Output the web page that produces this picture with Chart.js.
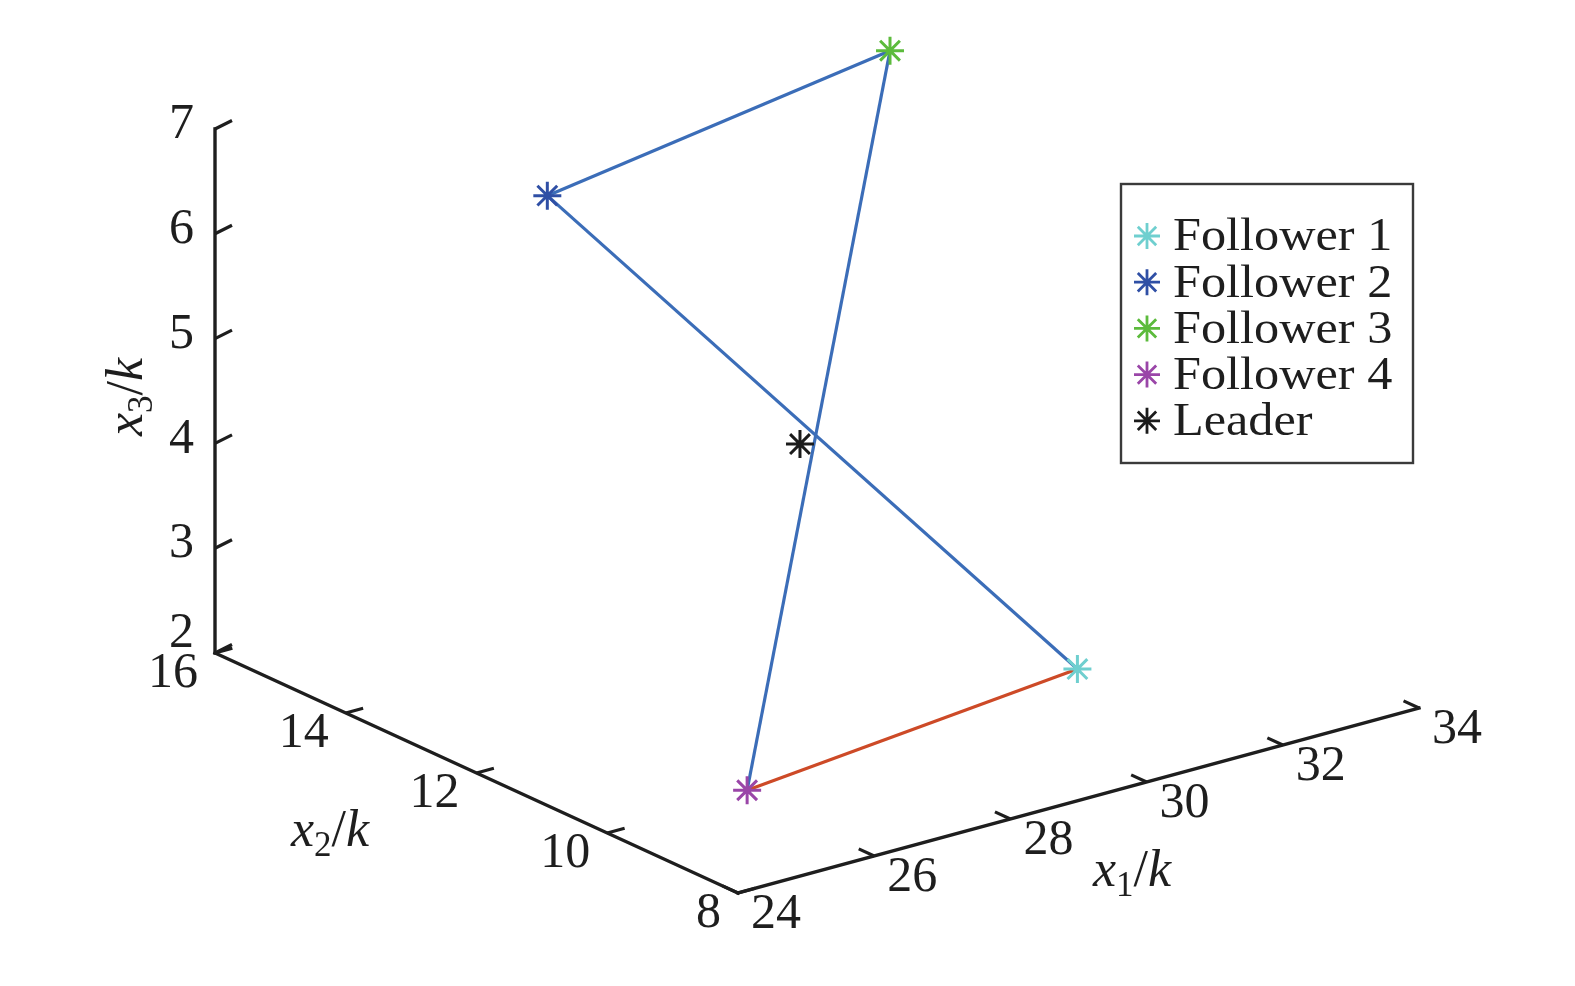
<!DOCTYPE html>
<html><head><meta charset="utf-8">
<script src="https://cdn.jsdelivr.net/npm/chart.js@4"></script>
<style>html,body{margin:0;padding:0;background:#fff;overflow:hidden}</style>
</head><body>
<canvas id="c" width="1575" height="986"></canvas>
<script>
// ---- data (3-D positions) ----
const seriesNames  = ['Follower 1', 'Follower 2', 'Follower 3', 'Follower 4', 'Leader'];
const x1Values     = [31.0, 27.2, 31.8, 26.15, 28.75];
const x2Values     = [10.1, 14.25, 13.8, 10.1, 12.0];
const x3Values     = [2.3, 6.3, 7.0, 2.0, 4.3];
const seriesColors = ['#6fcfcf', '#2f4fa5', '#5cbb3c', '#9a46a8', '#1b1b1b'];
// formation edges (indices into the series above)
const edgeFrom   = [1, 2, 1, 0];
const edgeTo     = [2, 3, 0, 3];
const edgeColors = ['#3b6db8', '#3b6db8', '#3b6db8', '#cd4a27'];
// axis ticks
const x1Ticks = [24, 26, 28, 30, 32, 34];
const x2Ticks = [8, 10, 12, 14, 16];
const x3Ticks = [2, 3, 4, 5, 6, 7];

// ---- view (camera) : maps 3-D data onto the 2-D view plane ----
const view = {
  origin: [738, 893],            // where (x1min, x2min, x3min) lands
  e1: [68.1, -18.5],             // per unit of x1
  e2: [-65.375, -30.0],          // per unit of x2
  e3: [0, -104.8],               // per unit of x3
  lo: [24, 8, 2]
};
function project(a, b, c) {
  const da = a - view.lo[0], db = b - view.lo[1], dc = c - view.lo[2];
  return {
    x: view.origin[0] + view.e1[0] * da + view.e2[0] * db + view.e3[0] * dc,
    y: view.origin[1] + view.e1[1] * da + view.e2[1] * db + view.e3[1] * dc
  };
}
const X1MIN = x1Ticks[0], X1MAX = x1Ticks[x1Ticks.length - 1];
const X2MIN = x2Ticks[0], X2MAX = x2Ticks[x2Ticks.length - 1];
const X3MIN = x3Ticks[0], X3MAX = x3Ticks[x3Ticks.length - 1];

const datasets = [];
// markers
seriesNames.forEach((name, i) => {
  datasets.push({
    label: name,
    data: [project(x1Values[i], x2Values[i], x3Values[i])],
    pointStyle: 'star',
    pointRadius: 14,
    pointHoverRadius: 14,
    borderColor: seriesColors[i],
    backgroundColor: seriesColors[i],
    borderWidth: 3,
    showLine: false,
    order: 0
  });
});
// edges
edgeFrom.forEach((f, k) => {
  const t = edgeTo[k];
  datasets.push({
    label: 'edge' + k,
    data: [project(x1Values[f], x2Values[f], x3Values[f]), project(x1Values[t], x2Values[t], x3Values[t])],
    showLine: true,
    pointRadius: 0,
    borderColor: edgeColors[k],
    borderWidth: 3.2,
    order: 1
  });
});
// axis lines
[
  [[X1MIN, X2MIN, X3MIN], [X1MAX, X2MIN, X3MIN]],
  [[X1MIN, X2MIN, X3MIN], [X1MIN, X2MAX, X3MIN]],
  [[X1MIN, X2MAX, X3MIN], [X1MIN, X2MAX, X3MAX]]
].forEach((seg, k) => {
  datasets.push({
    label: 'axis' + k,
    data: [project(...seg[0]), project(...seg[1])],
    showLine: true,
    pointRadius: 0,
    borderColor: '#1e1e1e',
    borderWidth: 3.4,
    borderCapStyle: 'square',
    order: 2
  });
});

const SERIF = '"Liberation Serif", "Times New Roman", serif';

function unit(v, len) { const n = Math.hypot(v[0], v[1]); return [v[0] / n * len, v[1] / n * len]; }

function drawMathLabel(ctx, x, y, sub, size) {
  // "x_sub / k"  centred at (x, y)
  const parts = [
    { t: 'x', f: 'italic ' + size + 'px ' + SERIF, dy: 0 },
    { t: sub, f: Math.round(size * 0.68) + 'px ' + SERIF, dy: size * 0.28 },
    { t: '/', f: size + 'px ' + SERIF, dy: 0 },
    { t: 'k', f: 'italic ' + size + 'px ' + SERIF, dy: 0 }
  ];
  let w = 0;
  parts.forEach(p => { ctx.font = p.f; p.w = ctx.measureText(p.t).width; w += p.w; });
  let cx = x - w / 2;
  ctx.textAlign = 'left';
  ctx.textBaseline = 'middle';
  parts.forEach(p => { ctx.font = p.f; ctx.fillText(p.t, cx, y + p.dy); cx += p.w; });
}

const axesPlugin = {
  id: 'axes3d',
  beforeDatasetsDraw(chart) {
    const ctx = chart.ctx, sx = chart.scales.x, sy = chart.scales.y;
    const P = (a, b, c) => { const p = project(a, b, c); return [sx.getPixelForValue(p.x), sy.getPixelForValue(p.y)]; };
    ctx.save();
    ctx.strokeStyle = '#1e1e1e';
    ctx.lineWidth = 3.2;
    ctx.lineCap = 'butt';
    const t1 = unit(view.e2, 17);      // ticks on x1 axis point along x2
    const t2 = unit(view.e1, 18);      // ticks on x2 axis point along x1
    const t3 = [17, -8.5];             // ticks on x3 axis
    ctx.beginPath();
    x1Ticks.forEach(v => { const p = P(v, X2MIN, X3MIN); ctx.moveTo(p[0], p[1]); ctx.lineTo(p[0] + t1[0], p[1] + t1[1]); });
    x2Ticks.forEach(v => { const p = P(X1MIN, v, X3MIN); ctx.moveTo(p[0], p[1]); ctx.lineTo(p[0] + t2[0], p[1] + t2[1]); });
    x3Ticks.forEach(v => { const p = P(X1MIN, X2MAX, v); ctx.moveTo(p[0], p[1]); ctx.lineTo(p[0] + t3[0], p[1] + t3[1]); });
    ctx.stroke();

    // tick labels
    ctx.fillStyle = '#1e1e1e';
    ctx.font = '50px ' + SERIF;
    ctx.textBaseline = 'middle';
    ctx.textAlign = 'left';
    x1Ticks.forEach(v => { const p = P(v, X2MIN, X3MIN); ctx.fillText(String(v), p[0] + 13, p[1] + 22); });
    ctx.textAlign = 'right';
    x2Ticks.forEach(v => { const p = P(X1MIN, v, X3MIN); ctx.fillText(String(v), p[0] - 17, p[1] + 21); });
    x3Ticks.forEach(v => { const p = P(X1MIN, X2MAX, v); ctx.fillText(String(v), p[0] - 21, p[1] - (v === X3MIN ? 19 : 4)); });

    // axis titles
    drawMathLabel(ctx, 1132, 872, '1', 52);
    drawMathLabel(ctx, 330, 832, '2', 52);
    ctx.save();
    ctx.translate(128, 397);
    ctx.rotate(-Math.PI / 2);
    drawMathLabel(ctx, 0, 0, '3', 52);
    ctx.restore();
    ctx.restore();
  }
};

const legendPlugin = {
  id: 'legendBox',
  afterDatasetsDraw(chart) {
    const ctx = chart.ctx;
    ctx.save();
    ctx.fillStyle = '#ffffff';
    ctx.fillRect(1121, 184, 292, 279);
    ctx.strokeStyle = '#3a3a3a';
    ctx.lineWidth = 2.4;
    ctx.strokeRect(1121, 184, 292, 279);
    seriesNames.forEach((name, i) => {
      const y = 236 + i * 46.2;
      ctx.strokeStyle = seriesColors[i];
      ctx.fillStyle = 'rgba(0,0,0,0)';
      ctx.lineWidth = 2.8;
      Chart.helpers.drawPoint(ctx, { pointStyle: 'star', radius: 13, borderWidth: 2.8, rotation: 0 }, 1147, y);
      ctx.fillStyle = '#1e1e1e';
      ctx.font = '47px ' + SERIF;
      ctx.textAlign = 'left';
      ctx.textBaseline = 'middle';
      ctx.save();
      ctx.translate(1173, y + 2);
      ctx.scale(1.07, 1);
      ctx.fillText(name, 0, 0);
      ctx.restore();
    });
    ctx.restore();
  }
};

new Chart(document.getElementById('c'), {
  type: 'scatter',
  data: { datasets },
  options: {
    responsive: false,
    animation: false,
    devicePixelRatio: 1,
    layout: { padding: 0, autoPadding: false },
    events: [],
    scales: {
      x: { type: 'linear', min: 0, max: 1575, display: false },
      y: { type: 'linear', min: 0, max: 986, reverse: true, display: false }
    },
    plugins: { legend: { display: false }, tooltip: { enabled: false } }
  },
  plugins: [axesPlugin, legendPlugin]
});
</script>
</body></html>
